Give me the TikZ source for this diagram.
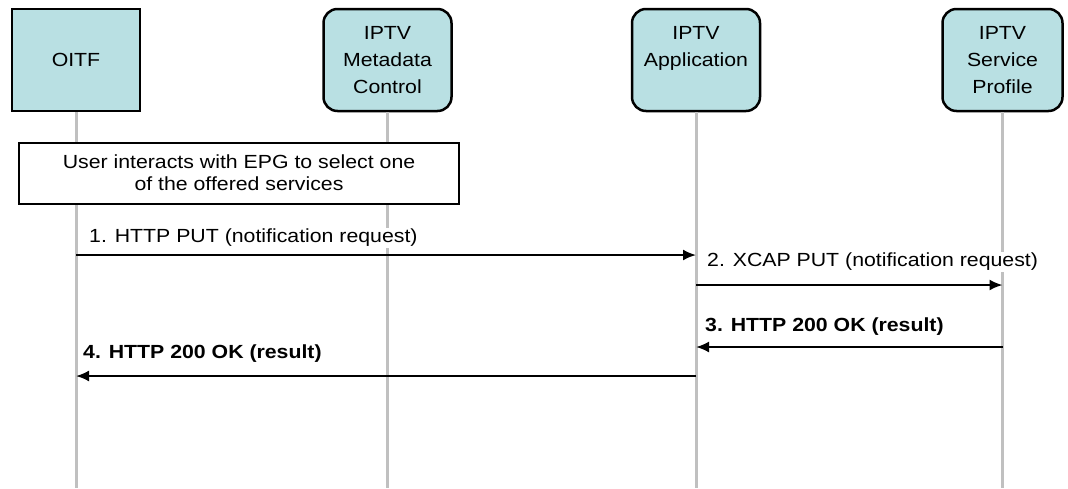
\documentclass[tikz,border=0pt]{standalone}
\usepackage{fontspec}
\setmainfont[FakeStretch=1.12]{Liberation Sans}
\usepackage{xcolor}
\usetikzlibrary{arrows.meta,positioning}

\definecolor{boxblue}{HTML}{B9E0E3}
\definecolor{lifegray}{HTML}{C0C0C0}

\begin{document}
\begin{tikzpicture}[x=1pt,y=-1pt,>={Latex[length=13pt,width=11pt]},
			entity/.style = {draw, line width=2.5pt, fill=boxblue, minimum width=128pt,
				minimum height=102pt, align=center, font=\fontsize{19}{27}\selectfont},
			rentity/.style = {entity, rounded corners=14pt},
			note/.style = {draw, line width=2pt, fill=white, minimum width=440pt,
				minimum height=61pt, align=center, font=\fontsize{19}{22}\selectfont},
			life/.style = {draw=lifegray, line width=3pt},
			msg/.style = {->, line width=2pt},
			lbl/.style = {fill=white, inner sep=1pt, anchor=west, font=\fontsize{19}{21}\selectfont},
			blbl/.style = {lbl, font=\fontsize{19}{21}\selectfont\bfseries}
			]
			\useasboundingbox (0,0) rectangle (1068,488);
			\node [entity] (oitf) at (76,60) {OITF};
			\node [rentity, right=181pt of oitf] (meta) {IPTV\\Metadata\\Control};
			\node [rentity, right=178pt of meta] (app) {IPTV\\Application\\\mbox{}};
			\node [rentity, minimum width=120pt, right=180pt of app] (prof) {IPTV\\Service\\Profile};
			% lifelines
			\foreach \e in {oitf,meta,app,prof}
				\draw[life] (\e.south) -- (\e |- 0,488);
			\node [note] (epg) at (239,173) {User interacts with EPG to select one\\of the offered services};
			% message end points
			\coordinate (o1) at (oitf |- 0,255);
			\coordinate (a1) at (app |- 0,255);
			\coordinate (a2) at (app |- 0,285);
			\coordinate (p2) at (prof |- 0,285);
			\coordinate (p3) at (prof |- 0,347);
			\coordinate (a3) at (app |- 0,347);
			\coordinate (a4) at (app |- 0,376);
			\coordinate (o4) at (oitf |- 0,376);
			\node [lbl] (l1) at (88,238) {1. HTTP PUT (notification request)};
			\node [lbl] (l2) at (706,262) {2. XCAP PUT (notification request)};
			\node [blbl] (l3) at (704,327) {3. HTTP 200 OK (result)};
			\node [blbl] (l4) at (82,354) {4. HTTP 200 OK (result)};
			\draw[msg] (o1) -- (a1);
			\draw[msg] (a2) -- (p2);
			\draw[msg] (p3) -- (a3);
			\draw[msg] (a4) -- (o4);
		\end{tikzpicture}
\end{document}
